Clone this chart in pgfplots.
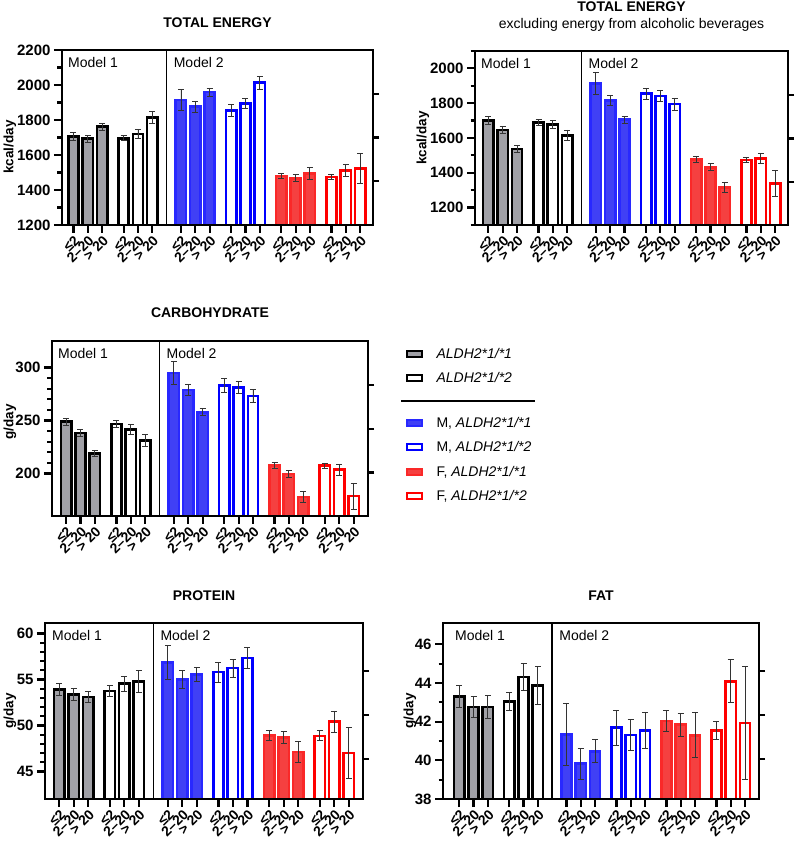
\documentclass[border=0pt]{standalone}
\usepackage{fontspec}
\setmainfont{Liberation Sans}
\usepackage{pgfplots}
\pgfplotsset{compat=1.18}
\definecolor{grayF}{RGB}{160,160,166}
\definecolor{blueF}{RGB}{64,64,245}
\definecolor{blueD}{RGB}{40,40,255}
\definecolor{redF}{RGB}{245,64,64}
\definecolor{redD}{RGB}{250,40,40}
\newcommand{\fs}[1]{\fontsize{#1}{#1}\selectfont}
\pgfplotsset{
 mybar/.style={ybar, bar width=0.72, bar shift=0pt, line width=2.6pt,
   error bars/y dir=both, error bars/y explicit,
   error bars/error bar style={line width=0.9pt, black!80},
   error bars/error mark options={line width=0.9pt, black!80, mark size=3pt, rotate=90}},
 g1/.style={mybar, fill=grayF, draw=black},
 g2/.style={mybar, fill=white, draw=black},
 b1/.style={mybar, fill=blueF, draw=blueD},
 b2/.style={mybar, fill=white, draw=blue},
 r1/.style={mybar, fill=redF, draw=redD},
 r2/.style={mybar, fill=white, draw=red},
 panel/.style={scale only axis, anchor=south west, axis on top, clip mode=individual,
  axis line style={line width=2.5pt},
  tick align=outside, tick pos=left,
  major tick length=8pt, minor tick length=4.5pt,
  tick style={line width=2.2pt, black},
  xtick={0,1,2,3.5,4.5,5.5,7.5,8.5,9.5,11,12,13,14.5,15.5,16.5,18,19,20},
  xticklabels={≤2,2–20,> 20,≤2,2–20,> 20,≤2,2–20,> 20,≤2,2–20,> 20,≤2,2–20,> 20,≤2,2–20,> 20},
  xticklabel style={rotate=45, anchor=north east, font=\bfseries\fs{14}, inner sep=1pt},
  yticklabel style={font=\bfseries\fs{15}},
  /pgf/number format/assume math mode=true,
  /pgf/number format/1000 sep={},
 },
 rightax/.style={scale only axis, anchor=south west, axis x line=none, axis y line*=right,
  ymin=0, ymax=1, xmin=0, xmax=1, yticklabels={}, tick align=outside,
  major tick length=6pt, tick style={line width=2.2pt, black},
  axis line style={line width=2.5pt, -}},
}
\begin{document}
\begin{tikzpicture}[x=1pt,y=1pt]
\useasboundingbox (0pt,0pt) rectangle (796pt,841pt);

% ---------- Panel 1: TOTAL ENERGY
\begin{axis}[panel, at={(62pt,616pt)}, width=311pt, height=175pt, xmin=-0.8, xmax=20.9,
  ymin=1200, ymax=2200, ytick={1200,1400,...,2200}, minor y tick num=1]
\addplot[g1] coordinates {(0,1707) +- (0,23) (1,1693) +- (0,19) (2,1762) +- (0,20)};
\addplot[g2] coordinates {(3.5,1695) +- (0,14) (4.5,1720) +- (0,25) (5.5,1815) +- (0,32)};
\addplot[b1] coordinates {(7.5,1914) +- (0,59) (8.5,1876) +- (0,32) (9.5,1960) +- (0,23)};
\addplot[b2] coordinates {(11,1855) +- (0,34) (12,1893) +- (0,29) (13,2013) +- (0,36)};
\addplot[r1] coordinates {(14.5,1480) +- (0,16) (15.5,1467) +- (0,20) (16.5,1495) +- (0,35)};
\addplot[r2] coordinates {(18,1474) +- (0,16) (19,1512) +- (0,32) (20,1524) +- (0,84)};
\draw[line width=1.3pt] (axis cs:6.5,1200) -- (axis cs:6.5,2200);
\node[anchor=north west, inner sep=0pt, font=\fs{14}, xshift=6pt, yshift=-7pt] at (rel axis cs:0,1) {Model 1};
\node[anchor=north west, inner sep=0pt, font=\fs{14}, xshift=7pt, yshift=-7pt] at (axis cs:6.5,2200) {Model 2};
\node[font=\bfseries\fs{14}, yshift=27pt] at (rel axis cs:0.5,1) {TOTAL ENERGY};
\node[font=\bfseries\fs{13.5}, xshift=-52pt, rotate=90] at (rel axis cs:0,0.446) {kcal/day};
\end{axis}
\begin{axis}[rightax, at={(62pt,616pt)}, width=311pt, height=175pt, ytick={0.25,0.5,0.75}]
\end{axis}

% ---------- Panel 2: TOTAL ENERGY excluding alcohol
\begin{axis}[panel, at={(475pt,616pt)}, width=313pt, height=174pt, xmin=-0.93, xmax=20.9,
  ymin=1100, ymax=2100, ytick={1200,1400,...,2000}, minor ytick={1100,1300,...,2100}]
\addplot[g1] coordinates {(0,1700) +- (0,23) (1,1645) +- (0,19) (2,1537) +- (0,19)};
\addplot[g2] coordinates {(3.5,1689) +- (0,17) (4.5,1679) +- (0,24) (5.5,1616) +- (0,30)};
\addplot[b1] coordinates {(7.5,1913) +- (0,62) (8.5,1816) +- (0,30) (9.5,1706) +- (0,20)};
\addplot[b2] coordinates {(11,1854) +- (0,33) (12,1841) +- (0,32) (13,1795) +- (0,35)};
\addplot[r1] coordinates {(14.5,1476) +- (0,17) (15.5,1432) +- (0,21) (16.5,1316) +- (0,30)};
\addplot[r2] coordinates {(18,1474) +- (0,13) (19,1483) +- (0,31) (20,1339) +- (0,76)};
\draw[line width=1.3pt] (axis cs:6.5,1100) -- (axis cs:6.5,2100);
\node[anchor=north west, inner sep=0pt, font=\fs{14}, xshift=6pt, yshift=-7pt] at (rel axis cs:0,1) {Model 1};
\node[anchor=north west, inner sep=0pt, font=\fs{14}, xshift=7pt, yshift=-7pt] at (axis cs:6.5,2100) {Model 2};
\node[font=\bfseries\fs{14}, yshift=44pt] at (rel axis cs:0.5,1) {TOTAL ENERGY};
\node[font=\fs{14}, yshift=26pt] at (rel axis cs:0.5,1) {excluding energy from alcoholic beverages};
\node[font=\bfseries\fs{13.5}, xshift=-52pt, rotate=90] at (rel axis cs:0,0.5) {kcal/day};
\end{axis}
\begin{axis}[rightax, at={(475pt,616pt)}, width=313pt, height=174pt, ytick={0.245,0.497,0.749}]
\end{axis}

% ---------- Panel 3: CARBOHYDRATE
\begin{axis}[panel, at={(52pt,325pt)}, width=316pt, height=175pt, xmin=-0.98, xmax=21.0,
  ymin=160, ymax=325, ytick={200,250,300}, minor y tick num=4]
\addplot[g1] coordinates {(0,248.9) +- (0,3.3) (1,238.2) +- (0,3.1) (2,218.8) +- (0,3.1)};
\addplot[g2] coordinates {(3.5,246.7) +- (0,3.0) (4.5,241.4) +- (0,4.7) (5.5,231.3) +- (0,5.5)};
\addplot[b1] coordinates {(7.5,294.7) +- (0,11) (8.5,278.7) +- (0,5.2) (9.5,257.7) +- (0,3.3)};
\addplot[b2] coordinates {(11,282.8) +- (0,6.6) (12,281.2) +- (0,5.5) (13,273.0) +- (0,6.3)};
\addplot[r1] coordinates {(14.5,207.8) +- (0,2.8) (15.5,199.7) +- (0,3.0) (16.5,178.0) +- (0,5.2)};
\addplot[r2] coordinates {(18,207.5) +- (0,2.5) (19,203.8) +- (0,5.2) (20,178.7) +- (0,12.2)};
\draw[line width=1.3pt] (axis cs:6.5,160) -- (axis cs:6.5,325);
\node[anchor=north west, inner sep=0pt, font=\fs{14}, xshift=6pt, yshift=-7pt] at (rel axis cs:0,1) {Model 1};
\node[anchor=north west, inner sep=0pt, font=\fs{14}, xshift=7pt, yshift=-7pt] at (axis cs:6.5,325) {Model 2};
\node[font=\bfseries\fs{14}, yshift=28pt] at (rel axis cs:0.5,1) {CARBOHYDRATE};
\node[font=\bfseries\fs{13.5}, xshift=-42pt, rotate=90] at (rel axis cs:0,0.537) {g/day};
\end{axis}
\begin{axis}[rightax, at={(52pt,325pt)}, width=316pt, height=175pt, ytick={0.248,0.498,0.749}]
\end{axis}

% ---------- Legend
\draw[line width=2pt, fill=grayF] (407pt,484pt) rectangle (422pt,490pt);
\node[anchor=west, font=\fs{14}] at (433pt,487pt) {\textit{ALDH2*1/*1}};
\draw[line width=2pt, fill=white] (407pt,460pt) rectangle (422pt,466pt);
\node[anchor=west, font=\fs{14}] at (433pt,463pt) {\textit{ALDH2*1/*2}};
\draw[line width=2.5pt] (401pt,440pt) -- (535pt,440pt);
\draw[line width=1.5pt, draw=blueD, fill=blueF] (407pt,415pt) rectangle (422pt,421pt);
\node[anchor=west, font=\fs{14}] at (433pt,418pt) {M, \textit{ALDH2*1/*1}};
\draw[line width=2pt, draw=blue, fill=white] (407pt,391pt) rectangle (422pt,397pt);
\node[anchor=west, font=\fs{14}] at (433pt,394pt) {M, \textit{ALDH2*1/*2}};
\draw[line width=1.5pt, draw=redD, fill=redF] (407pt,366pt) rectangle (422pt,372pt);
\node[anchor=west, font=\fs{14}] at (433pt,369pt) {F, \textit{ALDH2*1/*1}};
\draw[line width=2pt, draw=red, fill=white] (407pt,342pt) rectangle (422pt,348pt);
\node[anchor=west, font=\fs{14}] at (433pt,345pt) {F, \textit{ALDH2*1/*2}};

% ---------- Panel 5: PROTEIN
\begin{axis}[panel, at={(45pt,42pt)}, width=318pt, height=176pt, xmin=-0.98, xmax=20.98,
  ymin=42, ymax=61.15, ytick={45,50,55,60}, minor y tick num=4]
\addplot[g1] coordinates {(0,53.93) +- (0,0.61) (1,53.35) +- (0,0.63) (2,53.10) +- (0,0.60)};
\addplot[g2] coordinates {(3.5,53.75) +- (0,0.56) (4.5,54.54) +- (0,0.80) (5.5,54.79) +- (0,1.17)};
\addplot[b1] coordinates {(7.5,56.85) +- (0,1.86) (8.5,55.00) +- (0,1.01) (9.5,55.52) +- (0,0.78)};
\addplot[b2] coordinates {(11,55.81) +- (0,1.08) (12,56.24) +- (0,0.97) (13,57.32) +- (0,1.14)};
\addplot[r1] coordinates {(14.5,48.90) +- (0,0.54) (15.5,48.69) +- (0,0.67) (16.5,47.13) +- (0,1.10)};
\addplot[r2] coordinates {(18,48.87) +- (0,0.54) (19,50.42) +- (0,1.16) (20,47.02) +- (0,2.80)};
\draw[line width=1.3pt] (axis cs:6.5,42) -- (axis cs:6.5,61.15);
\node[anchor=north west, inner sep=0pt, font=\fs{14}, xshift=7pt, yshift=-7pt] at (rel axis cs:0,1) {Model 1};
\node[anchor=north west, inner sep=0pt, font=\fs{14}, xshift=7pt, yshift=-7pt] at (axis cs:6.5,61.15) {Model 2};
\node[font=\bfseries\fs{14}, yshift=27pt] at (rel axis cs:0.5,1) {PROTEIN};
\node[font=\bfseries\fs{13.5}, xshift=-35pt, rotate=90] at (rel axis cs:0,0.5) {g/day};
\end{axis}
\begin{axis}[rightax, at={(45pt,42pt)}, width=318pt, height=176pt, ytick={0.229,0.477,0.727}]
\end{axis}

% ---------- Panel 6: FAT
\begin{axis}[panel, at={(443pt,42pt)}, width=316pt, height=176pt, xmin=-1.14, xmax=20.98,
  ymin=38, ymax=47.1, ytick={38,40,...,46}, minor y tick num=1]
\addplot[g1] coordinates {(0,43.31) +- (0,0.56) (1,42.76) +- (0,0.53) (2,42.76) +- (0,0.57)};
\addplot[g2] coordinates {(3.5,43.03) +- (0,0.47) (4.5,44.31) +- (0,0.68) (5.5,43.88) +- (0,0.97)};
\addplot[b1] coordinates {(7.5,41.33) +- (0,1.60) (8.5,39.83) +- (0,0.80) (9.5,40.47) +- (0,0.60)};
\addplot[b2] coordinates {(11,41.69) +- (0,0.91) (12,41.31) +- (0,0.80) (13,41.55) +- (0,0.94)};
\addplot[r1] coordinates {(14.5,42.03) +- (0,0.56) (15.5,41.84) +- (0,0.60) (16.5,41.29) +- (0,1.16)};
\addplot[r2] coordinates {(18,41.55) +- (0,0.48) (19,44.09) +- (0,1.12) (20,41.93) +- (0,2.90)};
\draw[line width=1.3pt] (axis cs:6.5,38) -- (axis cs:6.5,47.1);
\node[anchor=north west, inner sep=0pt, font=\fs{14}, xshift=12pt, yshift=-7pt] at (rel axis cs:0,1) {Model 1};
\node[anchor=north west, inner sep=0pt, font=\fs{14}, xshift=7pt, yshift=-7pt] at (axis cs:6.5,47.1) {Model 2};
\node[font=\bfseries\fs{14}, yshift=27pt] at (rel axis cs:0.5,1) {FAT};
\node[font=\bfseries\fs{13.5}, xshift=-33pt, rotate=90] at (rel axis cs:0,0.5) {g/day};
\end{axis}
\begin{axis}[rightax, at={(443pt,42pt)}, width=316pt, height=176pt, ytick={0.229,0.477,0.727}]
\end{axis}
\end{tikzpicture}
\end{document}
